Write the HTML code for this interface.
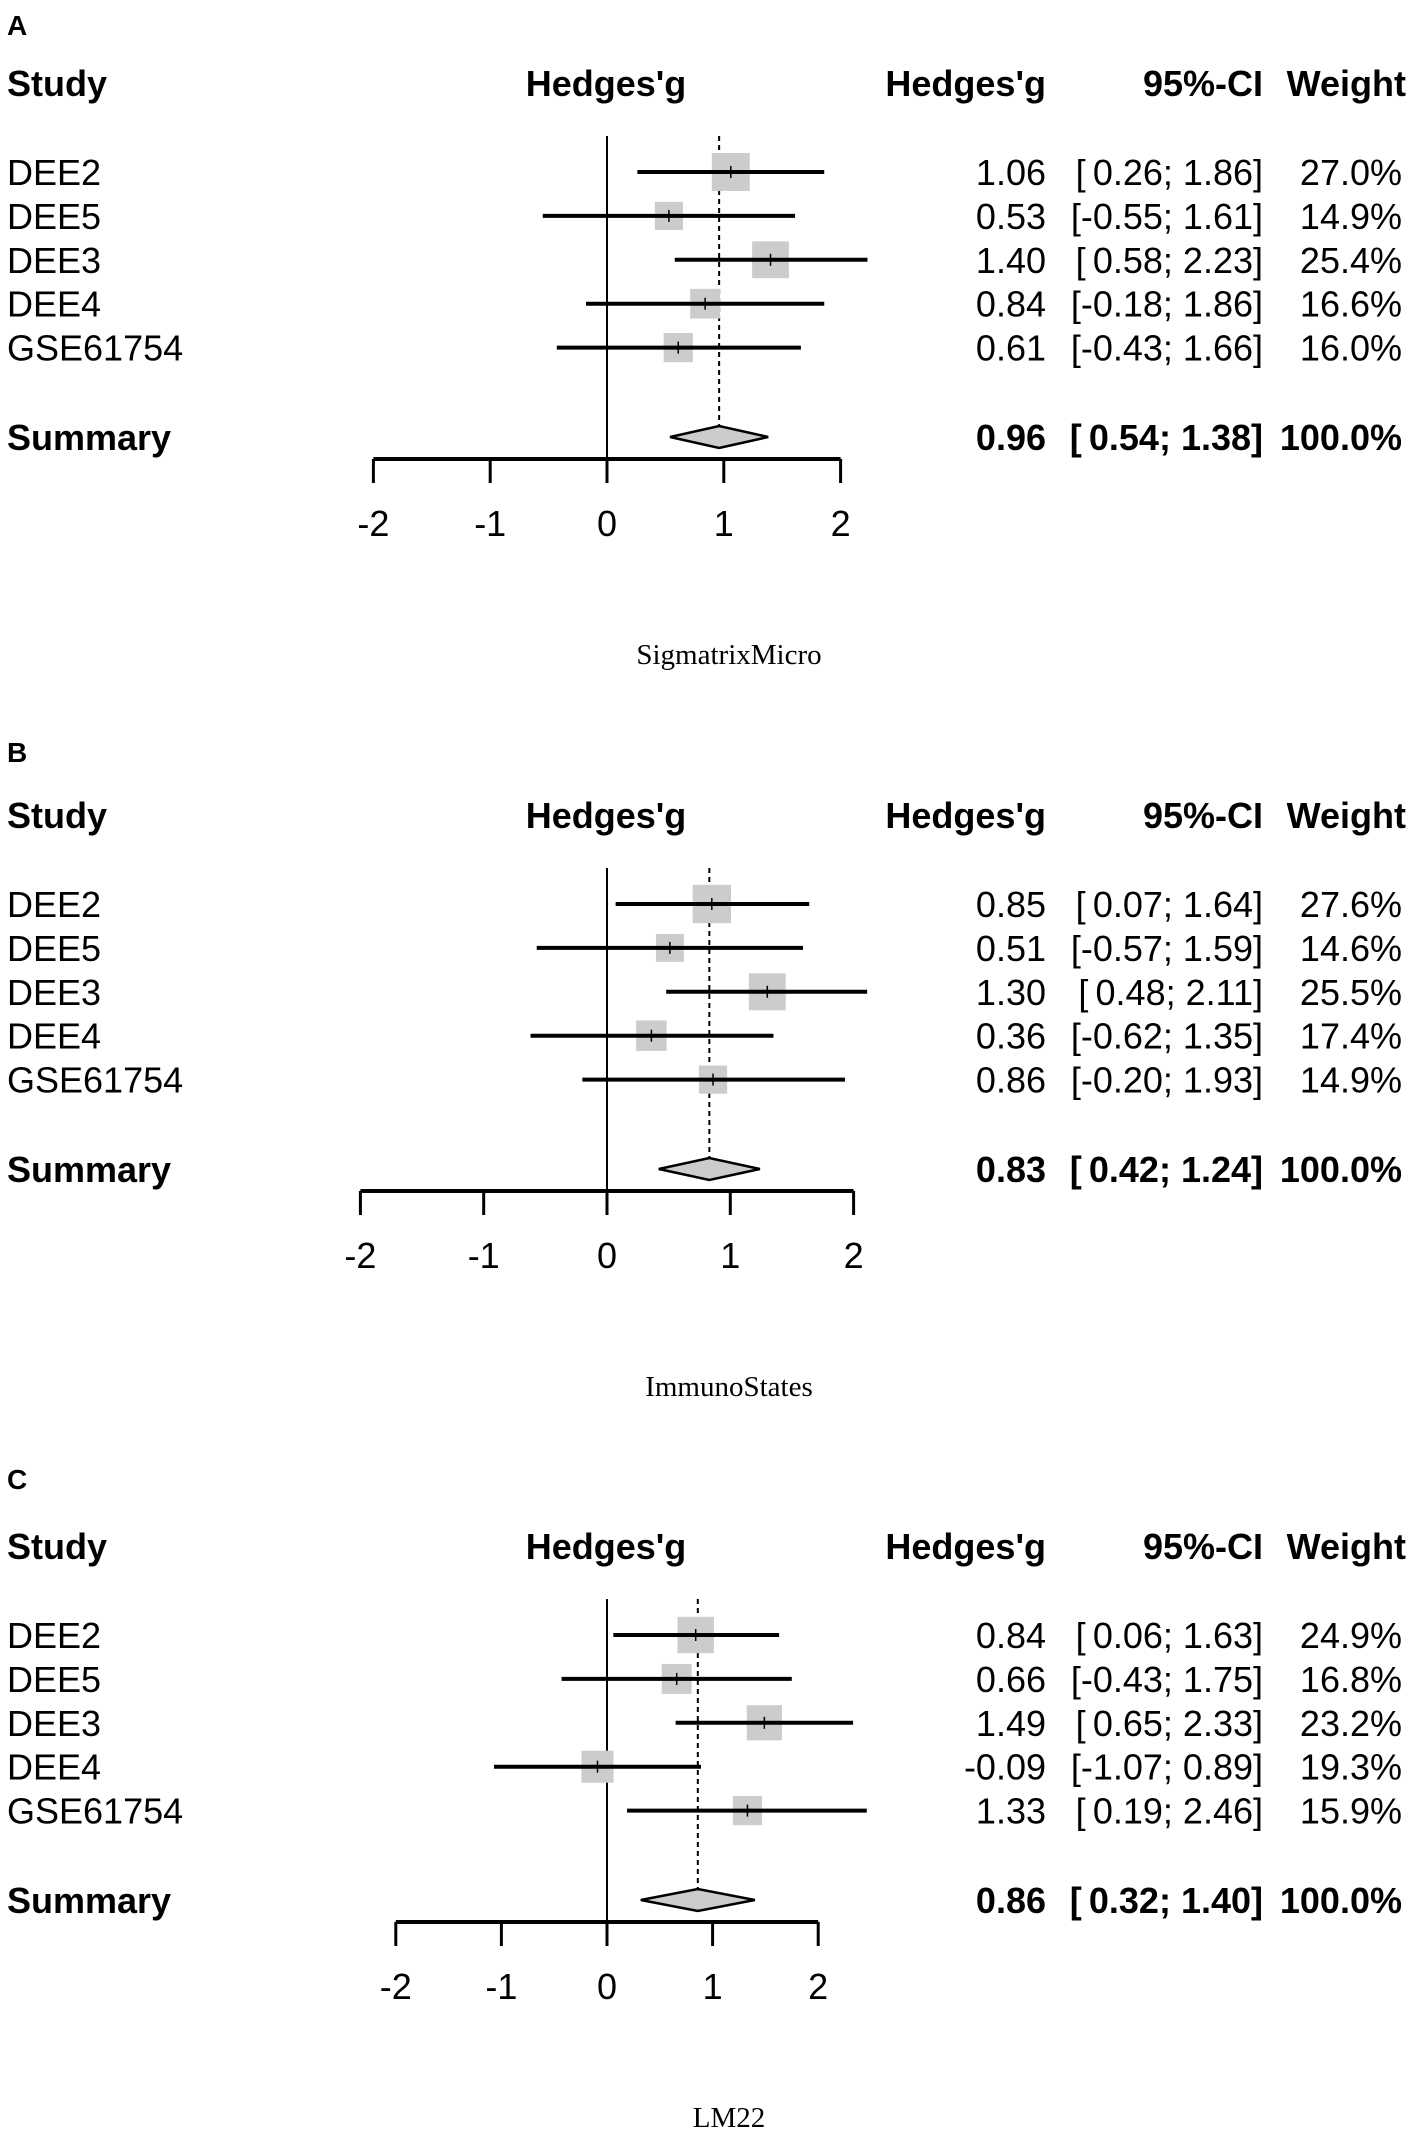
<!DOCTYPE html>
<html><head><meta charset="utf-8"><style>
html,body{margin:0;padding:0;background:#fff}
svg{display:block}
text{font-family:"Liberation Sans",Arial,sans-serif;fill:#000}
</style></head><body>
<svg id="fig" width="1417" height="2143" viewBox="0 0 1417 2143" xmlns="http://www.w3.org/2000/svg"></svg>
<script>
const studies = ["DEE2","DEE5","DEE3","DEE4","GSE61754"];
const panelLetters = ["A","B","C"];
const panelCaptions = ["SigmatrixMicro","ImmunoStates","LM22"];
const effectsA = [1.06,0.53,1.40,0.84,0.61];
const lowerA = [0.26,-0.55,0.58,-0.18,-0.43];
const upperA = [1.86,1.61,2.23,1.86,1.66];
const weightsA = [27.0,14.9,25.4,16.6,16.0];
const summaryA = [0.96,0.54,1.38];
const effectsB = [0.85,0.51,1.30,0.36,0.86];
const lowerB = [0.07,-0.57,0.48,-0.62,-0.20];
const upperB = [1.64,1.59,2.11,1.35,1.93];
const weightsB = [27.6,14.6,25.5,17.4,14.9];
const summaryB = [0.83,0.42,1.24];
const effectsC = [0.84,0.66,1.49,-0.09,1.33];
const lowerC = [0.06,-0.43,0.65,-1.07,0.19];
const upperC = [1.63,1.75,2.33,0.89,2.46];
const weightsC = [24.9,16.8,23.2,19.3,15.9];
const summaryC = [0.86,0.32,1.40];
const ticks = [-2,-1,0,1,2];

const panels = [
 {e:effectsA,l:lowerA,u:upperA,w:weightsA,s:summaryA,off:0,unit:116.8,ly:25},
 {e:effectsB,l:lowerB,u:upperB,w:weightsB,s:summaryB,off:732,unit:123.3,ly:752},
 {e:effectsC,l:lowerC,u:upperC,w:weightsC,s:summaryC,off:1463,unit:105.6,ly:1479}
];
const NS="http://www.w3.org/2000/svg";
const svg=document.getElementById('fig');
function mk(tag,attrs,parent,txt){const el=document.createElementNS(NS,tag);for(const k in attrs)el.setAttribute(k,attrs[k]);if(txt!==undefined)el.textContent=txt;(parent||svg).appendChild(el);return el;}
function fmt(v){return v.toFixed(2);}
function ci(l,u){return "["+(l<0?"":"\u2009")+fmt(l)+"; "+fmt(u)+"]";}

panels.forEach((p,pi)=>{
  const g=mk('g',{});
  
  
  const o=p.off, x0=607;
  const X=v=>x0+v*p.unit;
  const rowY=i=>o+172+i*43.9;
  const sumY=o+437, axY=o+459;
  let t;
  t=mk('text',{x:7,y:p.ly+10,'font-size':28,'font-weight':'bold'},g,panelLetters[pi]);
  
  const hy=o+96;
  t=mk('text',{x:7,y:hy,'font-size':36,'font-weight':'bold'},g,"Study");
  
  t=mk('text',{x:606,y:hy,'font-size':36,'font-weight':'bold','text-anchor':'middle'},g,"Hedges'g");
  
  t=mk('text',{x:1046,y:hy,'font-size':36,'font-weight':'bold','text-anchor':'end'},g,"Hedges'g");
  
  t=mk('text',{x:1263,y:hy,'font-size':36,'font-weight':'bold','text-anchor':'end'},g,"95%-CI");
  
  t=mk('text',{x:1406,y:hy,'font-size':36,'font-weight':'bold','text-anchor':'end'},g,"Weight");
  
  let ln=mk('line',{x1:X(0),x2:X(0),y1:o+136,y2:axY,stroke:'#000','stroke-width':2},g);
  
  ln=mk('line',{x1:X(p.s[0]),x2:X(p.s[0]),y1:o+136,y2:sumY-11,stroke:'#000','stroke-width':2,'stroke-dasharray':'5,4'},g);
  
  studies.forEach((s,i)=>{
    const y=rowY(i);
    let tt=mk('text',{x:7,y:y+13,'font-size':36},g,s);
    
    const side=7.3*Math.sqrt(p.w[i]);
    let r=mk('rect',{x:X(p.e[i])-side/2,y:y-side/2,width:side,height:side,fill:'#cccccc'},g);
    
    let l=mk('line',{x1:X(p.l[i]),x2:X(p.u[i]),y1:y,y2:y,stroke:'#000','stroke-width':4},g);
    
    l=mk('line',{x1:X(p.e[i]),x2:X(p.e[i]),y1:y-6,y2:y+6,stroke:'#000','stroke-width':1.5},g);
    
    tt=mk('text',{x:1046,y:y+13,'font-size':36,'text-anchor':'end'},g,fmt(p.e[i]));
    
    tt=mk('text',{x:1263,y:y+13,'font-size':36,'text-anchor':'end'},g,ci(p.l[i],p.u[i]));
    
    tt=mk('text',{x:1402,y:y+13,'font-size':36,'text-anchor':'end'},g,p.w[i].toFixed(1)+"%");
    
  });
  t=mk('text',{x:7,y:sumY+13,'font-size':36,'font-weight':'bold'},g,"Summary");
  
  const d=mk('polygon',{points:[X(p.s[1])+','+sumY,X(p.s[0])+','+(sumY-11),X(p.s[2])+','+sumY,X(p.s[0])+','+(sumY+11)].join(' '),fill:'#cccccc',stroke:'#000','stroke-width':2.5},g);
  
  t=mk('text',{x:1046,y:sumY+13,'font-size':36,'font-weight':'bold','text-anchor':'end'},g,fmt(p.s[0]));
  
  t=mk('text',{x:1263,y:sumY+13,'font-size':36,'font-weight':'bold','text-anchor':'end'},g,ci(p.s[1],p.s[2]));
  
  t=mk('text',{x:1402,y:sumY+13,'font-size':36,'font-weight':'bold','text-anchor':'end'},g,"100.0%");
  
  const ax=mk('line',{x1:X(ticks[0]),x2:X(ticks[ticks.length-1]),y1:axY,y2:axY,stroke:'#000','stroke-width':4},g);
  
  ticks.forEach(tv=>{
    const tk=mk('line',{x1:X(tv),x2:X(tv),y1:axY,y2:axY+24,stroke:'#000','stroke-width':3},g);
    
    const tl=mk('text',{x:X(tv),y:axY+77,'font-size':36,'text-anchor':'middle'},g,String(tv));
    
  });
  t=mk('text',{x:729,y:o+664,'font-size':29,'text-anchor':'middle'},g,panelCaptions[pi]);
  t.setAttribute('style','font-family:"Liberation Serif",serif');
  
});
</script>
</body></html>
